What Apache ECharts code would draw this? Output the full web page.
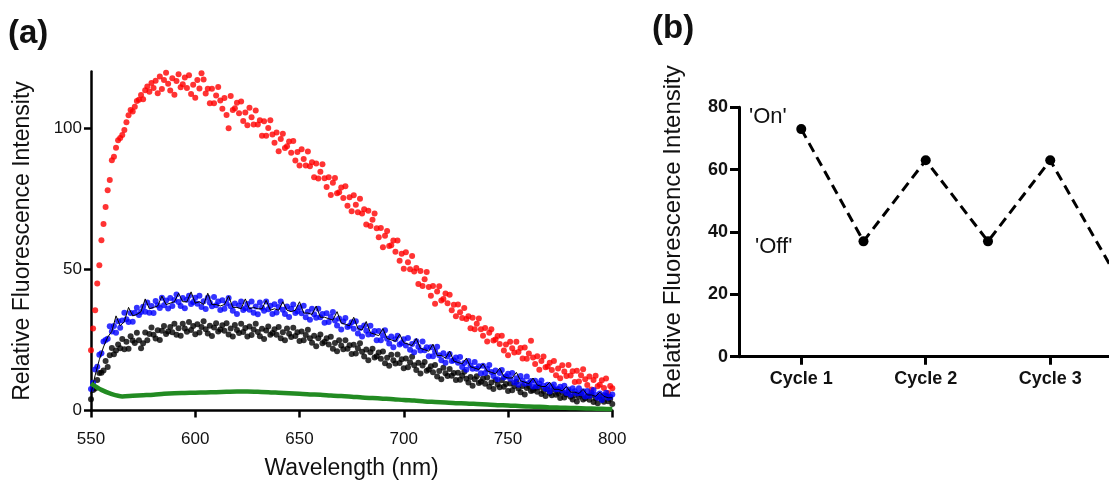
<!DOCTYPE html>
<html><head><meta charset="utf-8">
<script src="https://cdn.jsdelivr.net/npm/echarts@6/dist/echarts.min.js"></script>
<style>html,body{margin:0;padding:0;background:#fff}#c{width:1109px;height:487px}</style>
</head><body><div id="c"></div><script>
// ---------- Panel (a): emission spectra, sampled every 1 nm from 550 nm ----------
const wlStart = 550;
const wlStep = 1;
const redVals = [
21.3,29.0,35.5,45.0,51.4,60.3,66.0,72.0,78.0,81.6,
88.6,89.8,93.0,95.7,96.5,97.5,99.3,102.0,104.5,106.4,
105.8,107.5,109.6,110.0,111.7,110.2,113.4,114.7,112.8,115.9,
114.2,116.7,112.3,118.2,113.8,117.0,119.6,115.7,113.3,117.6,
111.8,116.6,119.0,114.4,115.5,117.9,114.2,118.7,112.0,115.3,
110.7,117.0,114.0,119.4,117.2,112.2,113.9,108.8,113.9,108.8,
111.5,114.5,109.7,106.8,110.6,104.6,99.9,111.3,106.4,107.0,
108.9,105.2,109.4,102.5,105.5,101.0,107.2,103.8,101.2,106.2,
101.2,102.7,97.3,102.4,97.3,100.0,102.7,97.7,94.8,98.4,
91.8,96.1,98.0,92.9,93.5,95.2,91.2,95.4,88.5,91.5,
86.7,92.5,89.0,86.7,91.7,86.5,87.9,82.6,87.4,82.1,
84.5,87.2,82.2,79.1,82.6,76.3,80.6,82.3,76.9,77.3,
78.9,75.2,79.4,72.5,75.5,70.5,76.2,72.8,70.2,75.0,
69.7,71.2,65.8,70.7,65.3,67.5,69.7,64.5,61.3,64.6,
57.8,61.9,63.5,58.2,58.5,60.2,56.2,60.2,53.0,55.5,
50.2,56.0,52.5,50.0,54.7,49.2,50.4,44.8,49.4,44.1,
46.5,49.0,43.7,40.6,44.1,37.8,42.1,44.0,38.9,39.5,
41.4,38.0,41.0,35.5,37.4,33.4,37.5,34.8,32.7,36.3,
32.4,33.4,29.1,32.8,28.8,30.7,32.6,28.8,26.5,29.2,
24.4,27.5,28.8,24.8,25.1,26.4,23.5,26.5,21.2,23.4,
19.6,24.3,22.0,20.5,24.3,20.7,22.1,18.4,22.3,18.3,
20.2,24.7,18.8,16.5,19.2,14.4,17.5,19.1,15.3,15.6,
16.9,14.3,17.5,12.5,14.9,11.4,16.0,13.8,12.2,16.1,
12.4,13.9,10.1,14.1,10.3,12.5,14.6,11.1,9.0,12.0,
7.4,10.8,12.3,8.6,9.1,10.7,8.0,11.3,6.2,8.7,
7.9];
const blueVals = [
7.6,9.8,14.5,15.5,19.7,20.3,24.4,25.0,25.4,29.8,
28.0,29.9,27.5,31.6,29.3,31.9,34.6,32.3,31.3,34.5,
31.4,34.6,36.4,33.8,34.9,36.7,35.0,38.2,34.6,37.0,
34.5,38.8,37.3,36.3,39.9,37.3,38.9,36.1,39.8,37.0,
39.1,41.1,38.4,37.0,39.8,36.2,39.2,40.6,37.7,38.4,
39.9,37.8,40.6,36.6,38.7,35.9,39.9,38.1,36.9,40.2,
37.3,38.6,35.6,39.0,36.0,37.9,39.8,36.9,35.3,37.9,
34.2,37.2,38.6,35.6,36.2,37.7,35.7,38.6,34.6,36.8,
34.1,38.2,36.4,35.3,38.6,35.8,37.1,34.2,37.6,34.7,
36.6,38.6,35.7,34.2,36.8,33.1,36.0,37.5,34.5,35.1,
36.5,34.4,37.1,33.0,35.0,32.1,36.0,34.1,32.8,36.0,
33.0,34.2,31.1,34.4,31.3,33.1,34.9,31.9,30.1,32.6,
28.7,31.5,32.7,29.6,30.0,31.2,28.9,31.6,27.3,29.2,
26.2,30.1,28.2,26.9,30.0,27.0,28.1,24.9,28.1,24.9,
26.6,28.4,25.4,23.7,26.2,22.4,25.2,26.5,23.4,23.9,
25.2,23.0,25.7,21.5,23.5,20.6,24.5,22.6,21.2,24.4,
21.3,22.4,19.2,22.4,19.2,20.9,22.6,19.6,17.8,20.3,
16.9,19.1,20.0,17.5,17.8,18.8,16.9,18.9,15.4,16.8,
14.4,17.5,15.9,14.8,17.2,14.8,15.7,13.2,15.8,13.3,
14.7,16.1,13.6,12.2,14.2,11.1,13.3,14.3,11.7,12.1,
13.0,11.2,13.3,9.9,11.4,9.1,12.2,10.6,9.5,12.0,
9.7,10.4,8.5,10.5,8.6,9.6,10.6,8.8,7.7,9.1,
6.7,8.4,9.2,7.4,7.6,8.4,7.1,8.8,6.2,7.4,
5.6,7.9,6.8,6.0,7.9,6.1,6.8,5.0,6.9,5.1,
6.2,7.3,5.5,4.5,6.0,3.7,5.4,6.3,4.5,4.9,
5.7];
const blackVals = [
4.0,7.3,7.8,10.8,13.3,13.4,14.2,17.5,15.4,19.6,
22.1,19.9,21.2,23.4,22.0,25.3,21.7,24.3,21.9,26.3,
24.8,23.9,27.5,24.9,22.0,23.8,27.6,24.9,27.1,29.4,
26.8,25.5,28.4,25.0,28.2,29.9,27.1,28.0,29.6,27.7,
30.7,26.8,29.1,26.5,30.7,29.0,27.9,31.3,28.5,29.9,
27.0,30.5,27.6,29.6,31.6,28.8,27.3,30.0,26.4,29.4,
30.9,28.0,28.7,30.2,28.2,30.9,26.9,29.0,26.2,30.3,
28.5,27.4,30.7,27.8,29.2,26.2,29.7,26.7,28.7,30.7,
27.8,26.3,28.9,25.3,28.3,29.7,26.8,27.4,28.8,26.8,
29.6,25.6,27.7,24.9,29.0,27.2,26.0,29.3,26.4,27.7,
24.6,28.0,24.9,26.7,28.6,25.6,24.0,26.5,22.7,25.6,
26.9,23.8,24.3,25.6,23.4,26.1,21.9,23.9,21.0,24.9,
23.0,21.7,24.9,21.9,23.1,20.0,23.3,20.2,22.0,23.8,
20.8,19.1,21.6,17.8,20.6,21.9,18.8,19.2,20.5,18.3,
20.9,16.7,18.7,15.8,19.7,17.8,16.6,19.8,16.8,18.1,
15.0,18.4,15.3,17.1,19.0,16.0,14.3,16.9,13.1,15.9,
17.2,14.1,14.5,15.7,13.5,16.1,12.0,14.0,11.1,15.1,
13.2,12.2,14.7,12.3,13.3,10.8,13.4,10.9,12.3,13.7,
11.2,9.9,11.9,8.8,11.1,12.1,9.7,10.2,11.3,9.5,
11.7,8.4,9.9,7.6,10.8,9.2,8.2,10.7,8.4,9.4,
6.9,9.6,7.2,8.7,10.2,7.8,6.5,8.7,5.7,8.0,
8.7,6.9,7.2,8.0,6.6,8.3,5.8,6.9,5.1,7.4,
6.2,5.4,7.4,5.6,6.2,4.4,6.4,4.6,5.7,6.7,
4.9,3.9,5.5,3.2,4.9,5.7,3.9,4.3,5.1,3.8,
5.5,3.0,4.3,2.6,4.9,3.8,3.1,5.1,3.3,4.1,
2.3];
// thin black trace, every 2 nm
const traceStep = 2;
const traceVals = [
6.0,12.5,18.0,22.5,26.0,28.0,33.5,30.0,31.5,36.5,
33.5,34.0,35.0,39.5,36.0,36.5,37.0,40.5,37.5,38.0,
38.5,41.5,38.5,38.5,42.0,38.0,38.5,37.5,41.5,37.5,
37.5,37.0,37.5,40.5,36.5,36.5,36.0,39.5,36.0,36.5,
36.0,36.0,39.0,35.5,36.0,35.5,38.5,35.5,35.0,35.5,
38.5,34.5,34.5,34.0,37.0,33.0,33.0,32.5,32.0,35.0,
31.0,30.5,30.0,33.0,29.0,28.5,31.5,27.5,27.0,26.5,
29.0,25.5,25.0,24.5,27.0,24.0,23.5,23.0,25.5,22.0,
21.5,21.0,23.5,19.5,19.5,18.5,21.0,17.5,17.0,16.5,
18.5,15.5,15.0,14.5,16.5,14.0,13.5,13.0,15.0,12.0,
11.5,11.5,13.5,10.5,10.0,9.5,11.5,9.0,8.5,8.5,
10.0,7.5,7.5,7.0,8.5,6.5,6.5,6.0,7.5,5.5,
5.5,5.0,6.5,5.0,4.5,4.5];
// green baseline, every 5 nm
const greenStep = 5;
const greenVals = [
9.5,7.3,5.8,5.0,5.2,5.4,5.6,5.9,6.1,6.2,
6.3,6.4,6.5,6.6,6.7,6.7,6.6,6.5,6.3,6.1,
5.9,5.7,5.6,5.3,5.1,4.9,4.6,4.4,4.2,4.0,
3.7,3.5,3.2,3.0,2.8,2.6,2.5,2.3,2.1,1.9,
1.8,1.6,1.4,1.3,1.1,1.0,0.9,0.8,0.7,0.6,
0.5];
const yTicksA = [0, 50, 100];

// ---------- Panel (b): on/off cycling ----------
const cycleLabels = ['Cycle 1', 'Cycle 2', 'Cycle 3'];
const cycleTickPos = [1, 2, 3];
const cyclePos = [1, 1.5, 2, 2.5, 3, 3.5];
const cycleVals = [73, 37, 63, 37, 63, 28];
const cycleAxisMin = 0.5;
const cycleAxisMax = 3.472; // panel is cut off by the right edge of the figure

const FONT = '"Liberation Sans", Arial, Helvetica, sans-serif';
function pairs(start, step, vals) { return vals.map((v, i) => [start + i * step, v]); }

const chart = echarts.init(document.getElementById('c'), null, { renderer: 'canvas' });
chart.setOption({
  animation: false,
  backgroundColor: '#fff',
  textStyle: { fontFamily: FONT },
  grid: [
    { left: 91, top: 71.5, width: 521.3, height: 339 },
    { left: 739, top: 107.3, right: 0, height: 249.4 }
  ],
  xAxis: [
    { gridIndex: 0, type: 'value', min: 550, max: 800, interval: 50,
      axisLine: { show: true, onZero: false, lineStyle: { color: '#000', width: 2.5 } },
      axisTick: { show: true, length: 7, lineStyle: { color: '#000', width: 2.5 } },
      axisLabel: { color: '#111', fontSize: 17, margin: 20, fontFamily: FONT },
      splitLine: { show: false },
      name: 'Wavelength (nm)', nameLocation: 'middle', nameGap: 47,
      nameTextStyle: { fontSize: 23, color: '#111', fontFamily: FONT } },
    { gridIndex: 1, type: 'value', min: cycleAxisMin, max: cycleAxisMax,
      axisLine: { show: true, onZero: false, lineStyle: { color: '#000', width: 3 } },
      axisTick: { show: true, length: 8, customValues: cycleTickPos, lineStyle: { color: '#000', width: 3 } },
      axisLabel: { customValues: cycleTickPos, formatter: v => cycleLabels[Math.round(v) - 1] || '',
        color: '#111', fontSize: 18, fontWeight: 'bold', margin: 13, fontFamily: FONT },
      splitLine: { show: false } }
  ],
  yAxis: [
    { gridIndex: 0, type: 'value', min: 0, max: 120,
      axisLine: { show: true, onZero: false, lineStyle: { color: '#000', width: 2.5 } },
      axisTick: { show: true, length: 7, customValues: yTicksA, lineStyle: { color: '#000', width: 2.5 } },
      axisLabel: { customValues: yTicksA, color: '#111', fontSize: 17, margin: 9, fontFamily: FONT },
      splitLine: { show: false },
      name: 'Relative Fluorescence Intensity', nameLocation: 'middle', nameGap: 57, nameRotate: 90,
      nameTextStyle: { fontSize: 23, color: '#111', fontFamily: FONT } },
    { gridIndex: 1, type: 'value', min: 0, max: 80, interval: 20,
      axisLine: { show: true, onZero: false, lineStyle: { color: '#000', width: 3 } },
      axisTick: { show: true, length: 9, lineStyle: { color: '#000', width: 3 } },
      axisLabel: { color: '#111', fontSize: 18, fontWeight: 'bold', margin: 11, fontFamily: FONT },
      splitLine: { show: false },
      name: 'Relative Fluorescence Intensity', nameLocation: 'middle', nameGap: 54, nameRotate: 90,
      nameTextStyle: { fontSize: 24, color: '#111', fontFamily: FONT } }
  ],
  series: [
    { type: 'scatter', xAxisIndex: 0, yAxisIndex: 0, symbolSize: 6,
      itemStyle: { color: '#ff0000' }, data: pairs(wlStart, wlStep, redVals) },
    { type: 'scatter', xAxisIndex: 0, yAxisIndex: 0, symbolSize: 6,
      itemStyle: { color: '#000000' }, data: pairs(wlStart, wlStep, blackVals) },
    { type: 'line', xAxisIndex: 0, yAxisIndex: 0, showSymbol: false, symbol: 'none',
      lineStyle: { color: '#000', width: 1 }, data: pairs(wlStart, traceStep, traceVals) },
    { type: 'scatter', xAxisIndex: 0, yAxisIndex: 0, symbolSize: 6,
      itemStyle: { color: '#0000ff' }, data: pairs(wlStart, wlStep, blueVals) },
    { type: 'line', xAxisIndex: 0, yAxisIndex: 0, showSymbol: false, symbol: 'none', smooth: 0.3,
      lineStyle: { color: '#228b22', width: 4.5 }, data: pairs(wlStart, greenStep, greenVals) },
    { type: 'line', xAxisIndex: 1, yAxisIndex: 1, symbol: 'circle', symbolSize: 10, clip: true,
      itemStyle: { color: '#000' },
      lineStyle: { color: '#000', width: 3, type: [10, 6] },
      data: cyclePos.map((x, i) => [x, cycleVals[i]]) }
  ],
  graphic: [
    { type: 'text', left: 8, top: 17, style: { text: '(a)', font: 'bold 33px ' + FONT, fill: '#111' } },
    { type: 'text', left: 652, top: 12, style: { text: '(b)', font: 'bold 33px ' + FONT, fill: '#111' } },
    { type: 'text', left: 749, top: 106, style: { text: "'On'", font: '22px ' + FONT, fill: '#111' } },
    { type: 'text', left: 755, top: 236, style: { text: "'Off'", font: '22px ' + FONT, fill: '#111' } }
  ]
});
</script></body></html>
